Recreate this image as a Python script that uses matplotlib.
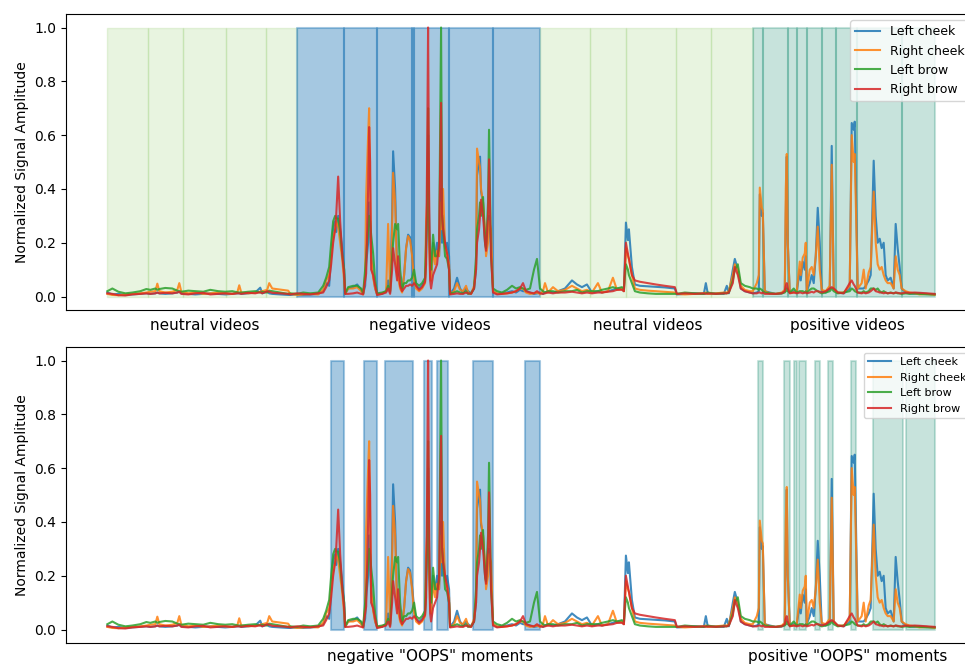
import matplotlib.pyplot as plt
import numpy as np

# frame index of each sample (one region of the recording per line)
frames = [
    107, 112, 118, 125, 132, 140, 146, 150, 155, 157, 159, 165, 172, 177, 179, 181, 188, 195, 203, 210, 218, 225, 232, 237, 239, 241, 248, 255, 260, 262, 267, 269, 272, 280, 288, 290, 297,
    303, 310, 318, 323, 326, 329, 331, 333, 335, 336, 338, 340, 342, 344, 345, 348, 353, 357, 361, 363, 365, 366, 368, 369, 370, 371, 373, 375, 377, 382, 386, 388, 390, 392, 393, 395, 397, 398, 400, 402, 404, 406, 408, 410, 412, 414, 416, 419, 422, 425, 426, 427, 428, 429, 430, 431, 433, 435, 437, 439, 441, 442, 443, 445, 447, 449, 450, 454, 457, 460, 463, 466, 468, 471, 474, 476, 477, 479, 480, 481, 483, 485, 486, 488, 489, 491, 493, 497, 502, 507, 512, 516, 520, 523, 526, 530, 534, 537, 540,
    543, 545, 548, 553, 558, 565, 572, 577, 582, 587, 592, 598, 602, 608, 613, 617, 622, 624, 626, 628, 629, 632, 635, 640, 648, 656, 665, 675, 677, 685, 695, 704, 706, 708, 716, 724, 727, 729, 733, 735, 738, 741, 745, 750, 753,
    757, 759, 760, 762, 763, 765, 770, 776, 782, 785, 786, 787, 788, 790, 794, 797, 800, 801, 803, 805, 806, 807, 810, 812, 814, 816, 818, 820, 822, 826, 830, 832, 834, 838, 844, 850, 852, 854, 855, 858, 862, 864, 866, 869, 871, 874, 876, 878, 880, 882, 884, 886, 888, 891, 894, 896, 898, 900, 902, 906, 910, 915, 920, 927, 935,
]

left_cheek = [
    .015, .008, .010, .006, .008, .010, .012, .010, .012, .015, .012, .010, .012, .015, .018, .012, .010, .008, .010, .012, .010, .008, .010, .012, .012, .010, .012, .015, .033, .012, .018, .012, .010, .008, .006, .006, .008,
    .006, .008, .010, .020, .050, .040, .150, .260, .280, .240, .300, .250, .180, .100, .010, .030, .035, .045, .025, .010, .040, .120, .200, .350, .250, .150, .080, .030, .008, .010, .020, .060, .015, .300, .540, .400, .100, .080, .040, .020, .080, .180, .230, .220, .160, .080, .040, .030, .040, .060, .150, .300, .600, .300, .100, .060, .200, .150, .200, .150, .400, .200, .300, .180, .200, .150, .010, .030, .070, .030, .015, .030, .020, .012, .030, .100, .450, .500, .520, .390, .350, .200, .180, .250, .300, .200, .020, .010, .012, .015, .020, .015, .025, .020, .020, .015, .010, .012, .015,
    .010, .015, .020, .015, .020, .030, .060, .045, .035, .045, .015, .020, .015, .020, .025, .030, .030, .020, .275, .210, .250, .110, .045, .040, .038, .036, .034, .030, .008, .010, .012, .010, .050, .010, .012, .010, .040, .012, .100, .140, .100, .030, .020, .015, .012,
    .015, .020, .380, .300, .310, .020, .015, .010, .012, .020, .300, .520, .200, .015, .020, .015, .100, .060, .130, .100, .150, .020, .050, .080, .050, .150, .330, .200, .020, .015, .030, .560, .030, .015, .012, .030, .645, .620, .650, .030, .030, .030, .040, .060, .080, .505, .300, .200, .215, .180, .200, .080, .060, .070, .030, .270, .180, .110, .030, .015, .012, .010, .012, .010, .008,
]

right_cheek = [
    .010, .006, .005, .008, .010, .012, .015, .018, .020, .048, .020, .015, .018, .025, .050, .018, .012, .015, .010, .012, .015, .012, .010, .015, .042, .015, .012, .015, .018, .020, .025, .050, .030, .026, .022, .010, .006,
    .008, .010, .008, .025, .060, .080, .150, .220, .250, .280, .260, .200, .140, .060, .010, .030, .030, .035, .020, .008, .080, .370, .600, .700, .400, .150, .070, .030, .008, .012, .020, .270, .020, .250, .460, .350, .080, .070, .030, .015, .080, .180, .225, .210, .150, .060, .030, .020, .030, .050, .280, .350, .500, .200, .080, .060, .180, .120, .170, .150, .350, .250, .400, .180, .160, .120, .010, .020, .050, .025, .020, .040, .015, .010, .040, .120, .550, .500, .480, .400, .350, .250, .150, .200, .280, .250, .020, .012, .010, .012, .015, .020, .030, .030, .015, .010, .012, .015, .010,
    .020, .050, .015, .035, .020, .025, .040, .030, .020, .025, .015, .050, .015, .020, .070, .025, .030, .020, .180, .150, .140, .080, .030, .025, .022, .020, .018, .015, .010, .008, .010, .012, .015, .010, .012, .015, .015, .020, .080, .120, .100, .040, .025, .020, .020,
    .050, .080, .405, .330, .320, .020, .012, .010, .015, .025, .400, .530, .200, .015, .015, .020, .130, .080, .145, .160, .200, .020, .100, .110, .080, .150, .260, .100, .025, .020, .040, .490, .030, .015, .015, .040, .600, .500, .530, .030, .050, .100, .030, .090, .110, .390, .200, .120, .100, .110, .080, .060, .050, .050, .030, .150, .100, .080, .030, .020, .015, .012, .008, .010, .006,
]

left_brow = [
    .020, .030, .018, .012, .015, .020, .028, .025, .030, .025, .028, .032, .030, .022, .020, .018, .022, .020, .018, .025, .020, .018, .020, .016, .015, .015, .018, .020, .015, .018, .015, .022, .020, .015, .010, .012, .010,
    .015, .012, .015, .040, .070, .110, .200, .280, .300, .290, .290, .240, .160, .100, .012, .035, .040, .040, .030, .012, .100, .150, .250, .300, .280, .230, .160, .060, .012, .015, .020, .040, .020, .150, .200, .270, .250, .270, .100, .030, .050, .050, .060, .060, .070, .100, .050, .040, .050, .070, .200, .300, .700, .250, .150, .100, .230, .150, .150, .180, 1.000, .300, .250, .150, .140, .100, .012, .015, .020, .015, .012, .020, .010, .012, .030, .150, .250, .300, .350, .300, .370, .200, .180, .350, .620, .150, .030, .020, .015, .025, .040, .030, .035, .030, .025, .030, .100, .140, .030,
    .020, .015, .020, .020, .015, .020, .020, .025, .015, .020, .020, .020, .025, .030, .035, .030, .035, .030, .120, .100, .080, .050, .020, .015, .012, .010, .010, .010, .010, .015, .012, .010, .012, .015, .010, .012, .012, .015, .060, .100, .120, .050, .040, .035, .030,
    .030, .025, .030, .025, .020, .015, .012, .010, .012, .015, .020, .030, .020, .015, .030, .015, .020, .020, .020, .015, .020, .015, .025, .030, .030, .025, .020, .015, .012, .015, .020, .030, .020, .012, .015, .020, .030, .025, .020, .015, .015, .020, .015, .020, .030, .030, .025, .030, .020, .015, .020, .015, .012, .015, .012, .015, .012, .012, .010, .012, .010, .012, .010, .008, .008,
]

right_brow = [
    .012, .010, .005, .004, .008, .010, .012, .010, .012, .015, .012, .014, .012, .015, .018, .010, .008, .012, .014, .008, .010, .012, .010, .012, .012, .010, .014, .012, .016, .012, .020, .018, .014, .012, .010, .008, .012,
    .010, .008, .012, .015, .035, .060, .120, .200, .250, .300, .446, .280, .160, .080, .010, .010, .012, .015, .010, .008, .060, .085, .400, .630, .500, .100, .080, .040, .006, .010, .015, .030, .010, .100, .180, .120, .060, .150, .040, .020, .030, .040, .040, .045, .040, .050, .040, .025, .035, .055, .120, .500, 1.000, .400, .060, .030, .080, .100, .120, .200, .720, .300, .250, .200, .160, .100, .008, .010, .012, .010, .010, .015, .012, .010, .030, .100, .200, .250, .300, .360, .300, .200, .170, .300, .510, .150, .015, .008, .010, .012, .015, .020, .030, .050, .020, .015, .012, .020, .012,
    .010, .012, .015, .012, .015, .015, .018, .015, .012, .015, .012, .015, .015, .018, .020, .025, .025, .020, .200, .160, .140, .080, .060, .055, .050, .045, .040, .035, .010, .012, .010, .012, .010, .012, .010, .012, .012, .015, .050, .110, .080, .030, .020, .015, .012,
    .012, .015, .015, .012, .015, .010, .010, .010, .012, .020, .040, .050, .030, .012, .015, .012, .015, .015, .012, .015, .015, .012, .015, .018, .015, .020, .020, .018, .015, .020, .030, .035, .030, .015, .012, .050, .060, .045, .040, .015, .012, .015, .012, .015, .020, .030, .020, .018, .015, .015, .012, .015, .012, .014, .012, .015, .014, .012, .012, .015, .014, .015, .014, .012, .010,
]

series_names = ['Left cheek', 'Right cheek', 'Left brow', 'Right brow']

# video boundaries (frames)
neutral_videos_1 = [107, 148, 183, 226, 266, 297]
negative_videos = [297, 344, 377, 412, 414, 449, 493, 540]
neutral_videos_2 = [540, 590, 626, 676, 711, 753]
positive_videos = [753, 763, 788, 797, 807, 822, 836, 857, 902, 935]

# "OOPS" moments (start, end frames)
negative_oops = [(331, 344), (364, 377), (385, 413), (424, 432), (437, 448), (473, 493), (525, 540)]
positive_oops = [(758, 763), (784, 790), (794, 797), (799, 806), (815, 820), (828, 833), (851, 856), (873, 903), (906, 935)]

top_tick_pos = [204, 430, 648, 848]
top_tick_labels = ['neutral videos', 'negative videos', 'neutral videos', 'positive videos']
bottom_tick_pos = [430, 848]
bottom_tick_labels = ['negative "OOPS" moments', 'positive "OOPS" moments']

for s in (left_cheek, right_cheek, left_brow, right_brow):
    assert len(s) == len(frames), (len(s), len(frames))

NEUTRAL = '#8cc864'
NEGATIVE = 'tab:blue'
POSITIVE = '#008064'
STYLE = {NEUTRAL: (0.2, 1.0), NEGATIVE: (0.4, 1.5), POSITIVE: (0.22, 1.5)}


def shade(ax, x0, x1, color):
    alpha, lw = STYLE[color]
    ax.fill_between([x0, x1], 0, 1, facecolor=color, edgecolor=color,
                    alpha=alpha, linewidth=lw, zorder=1)


def draw_signals(ax, legend_size):
    x = np.array(frames)
    for name, vals in zip(series_names, [left_cheek, right_cheek, left_brow, right_brow]):
        ax.plot(x, vals, label=name, linewidth=1.5, alpha=0.85, zorder=2)
    ax.set_ylabel('Normalized Signal Amplitude', fontsize=10)
    ax.tick_params(axis='x', length=0, pad=6, labelsize=11)
    ax.tick_params(axis='y', labelsize=10)
    ax.legend(loc='upper right', fontsize=legend_size)


fig = plt.figure(figsize=(9.65, 6.66), dpi=100)
ax1 = fig.add_axes([0.0684, 0.5345, 0.943, 0.4444])
ax2 = fig.add_axes([0.0684, 0.0345, 0.943, 0.4444])

for bounds, color in [(neutral_videos_1, NEUTRAL), (negative_videos, NEGATIVE),
                      (neutral_videos_2, NEUTRAL), (positive_videos, POSITIVE)]:
    for a, b in zip(bounds[:-1], bounds[1:]):
        shade(ax1, a, b, color)
draw_signals(ax1, 9)
ax1.set_xticks(top_tick_pos, top_tick_labels)

for a, b in negative_oops:
    shade(ax2, a, b, NEGATIVE)
for a, b in positive_oops:
    shade(ax2, a, b, POSITIVE)
draw_signals(ax2, 8)
ax2.set_xticks(bottom_tick_pos, bottom_tick_labels)
ax2.tick_params(axis='x', pad=4)

fig.savefig('out.png', dpi=100)
